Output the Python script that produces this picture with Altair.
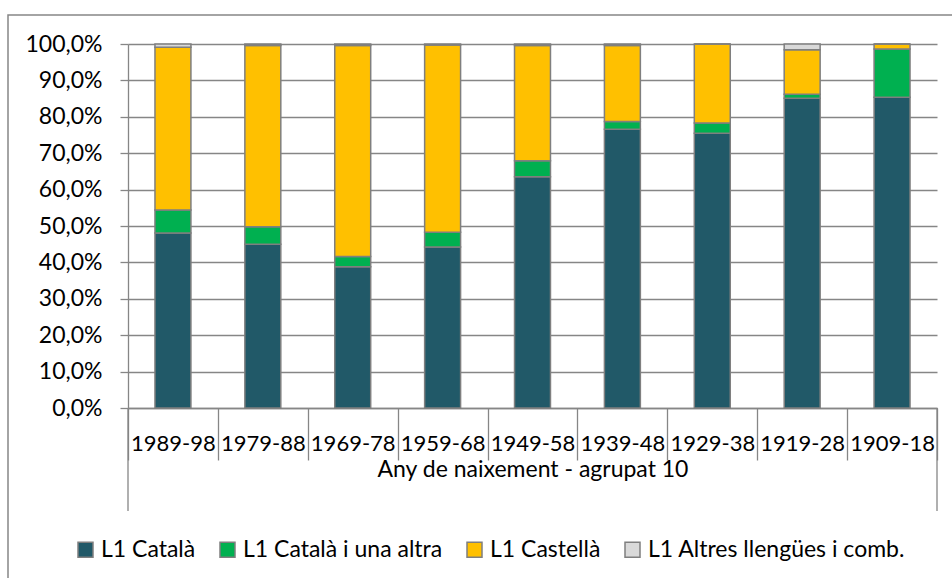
import altair as alt
import pandas as pd

# Birth-year cohorts (10-year groups) and first-language shares, in %
cohorts = ["1989-98", "1979-88", "1969-78", "1959-68", "1949-58",
           "1939-48", "1929-38", "1919-28", "1909-18"]
series = ["L1 Català", "L1 Català i una altra", "L1 Castellà",
          "L1 Altres llengües i comb."]
catala = [48.1, 45.0, 38.8, 44.2, 63.5, 76.6, 75.5, 85.1, 85.4]
catala_altra = [6.3, 4.8, 2.8, 4.1, 4.4, 2.1, 2.8, 1.1, 13.2]
castella = [44.7, 49.8, 58.0, 51.4, 31.7, 20.9, 21.7, 12.2, 1.4]
altres = [0.9, 0.4, 0.4, 0.3, 0.4, 0.4, 0.0, 1.6, 0.0]
colors = ["#215968", "#00B050", "#FFC000", "#D9D9D9"]

rows = []
for k, (name, vals) in enumerate(zip(series, [catala, catala_altra, castella, altres])):
    for c, v in zip(cohorts, vals):
        rows.append({"cohort": c, "serie": name, "ord": k, "pct": v / 100})
df = pd.DataFrame(rows)

FONT = "Lato"
FS = 23
GRAY = "#868686"
W, H = 809, 364

x_enc = alt.X(
    "cohort:N", sort=cohorts,
    scale=alt.Scale(paddingInner=0, paddingOuter=0),
    axis=alt.Axis(
        title="Any de naixement - agrupat 10",
        labelAngle=0, labelFont=FONT, labelFontSize=22, labelColor="#000000",
        labelOverlap=False, labelPadding=-27, labelBaseline="top",
        ticks=True, tickBand="extent", tickSize=52, tickColor=GRAY, tickWidth=1.3,
        domainColor=GRAY, domainWidth=1.3,
        titleFont=FONT, titleFontSize=FS, titleFontWeight="normal",
        titleColor="#000000", titleY=61, titleBaseline="middle",
    ),
)

y_enc = alt.Y(
    "pct:Q", stack="zero",
    scale=alt.Scale(domain=[0, 1], nice=False),
    axis=alt.Axis(
        title=None, values=[i / 10 for i in range(11)],
        labelExpr="replace(format(datum.value, '.1%'), '.', ',')",
        labelFont=FONT, labelFontSize=FS, labelColor="#000000", labelPadding=18,
        tickColor=GRAY, tickSize=8, tickWidth=1.3,
        domainColor=GRAY, domainWidth=1.3,
        grid=True, gridColor=GRAY, gridWidth=1.3,
    ),
)

bars = alt.Chart(df).mark_bar(
    width=alt.RelativeBandSize(0.4), stroke="#7F7F7F", strokeWidth=1.5
).encode(
    x=x_enc,
    y=y_enc,
    order=alt.Order("ord:Q", sort="ascending"),
    color=alt.Color(
        "serie:N", sort=series,
        scale=alt.Scale(domain=series, range=colors),
        legend=alt.Legend(
            title=None, orient="none", direction="horizontal",
            legendX=-54, legendY=494,
            symbolType="square", symbolSize=225,
            symbolStrokeColor="#7F7F7F", symbolStrokeWidth=1.5,
            labelFont=FONT, labelFontSize=FS, labelColor="#000000",
            labelOffset=4, columnPadding=20, labelLimit=400,
        ),
    ),
)

# Long outer separators of the category axis, and the chart frame
edge_left = alt.Chart(pd.DataFrame({"k": [0]})).mark_rule(
    color=GRAY, strokeWidth=1.3
).encode(
    x=alt.value(0), y=alt.value(H), y2=alt.value(H + 103)
)
edge_right = alt.Chart(pd.DataFrame({"k": [0]})).mark_rule(
    color=GRAY, strokeWidth=1.3
).encode(
    x=alt.value(W), y=alt.value(H), y2=alt.value(H + 103)
)
frame = alt.Chart(pd.DataFrame({"k": [0]})).mark_rect(
    fill=None, stroke=GRAY, strokeWidth=1.5
).encode(
    x=alt.value(-120), x2=alt.value(W + 30),
    y=alt.value(-29), y2=alt.value(H + 200),
)

chart = alt.layer(frame, bars, edge_left, edge_right).properties(
    width=W, height=H,
    autosize=alt.AutoSizeParams(type="none"),
    padding={"left": 128, "top": 44, "right": 15, "bottom": 170},
    background="#FFFFFF",
).configure_view(stroke=None)

chart.save("out.html", embed_options={"renderer": "svg", "actions": False})
